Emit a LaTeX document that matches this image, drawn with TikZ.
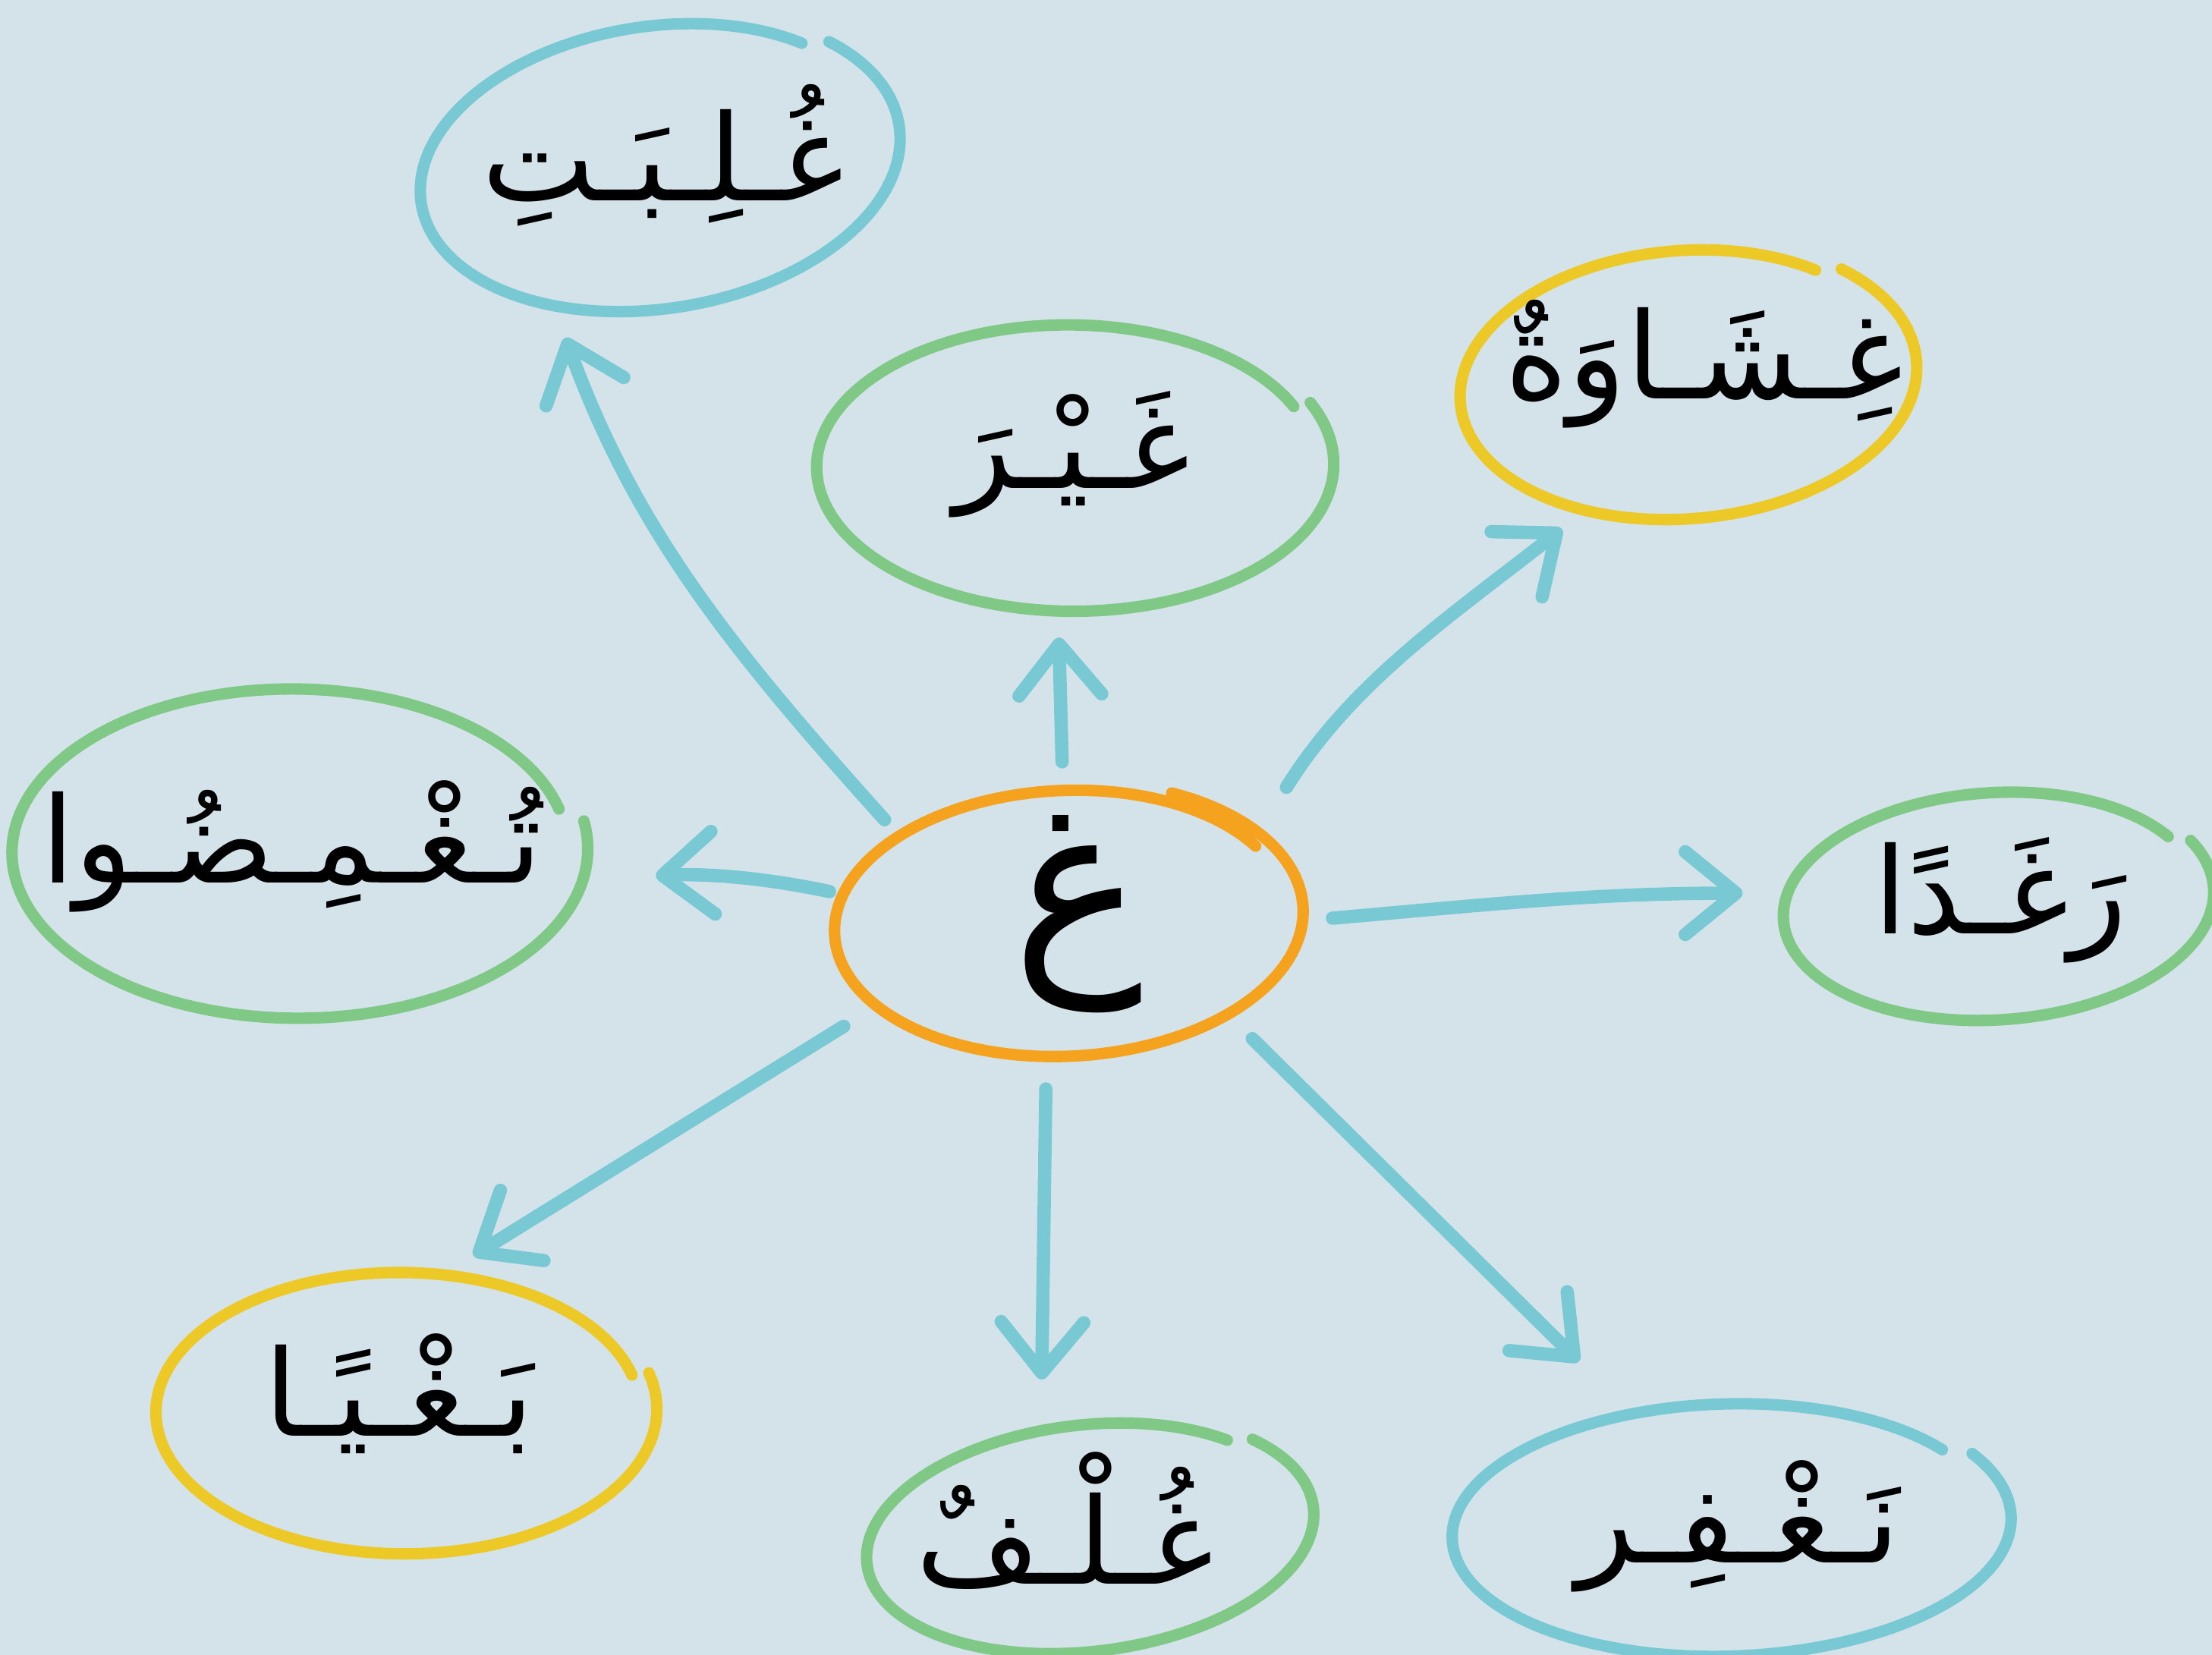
\documentclass[tikz,border=0pt]{standalone}
\usepackage{fontspec}
\usetikzlibrary{shapes.geometric,arrows.meta}
\newfontfamily\arabicfont[Script=Arabic]{DejaVu Sans}
\TeXXeTstate=1
\definecolor{bg}{HTML}{D4E3EA}
\definecolor{cblue}{HTML}{78C9D4}
\definecolor{cgreen}{HTML}{80C886}
\definecolor{cyellow}{HTML}{EDC927}
\definecolor{corange}{HTML}{F5A31F}
\tikzset{
  spot/.style={ellipse, inner sep=0pt, outer sep=0pt},
  word/.style={inner sep=0pt, font=\arabicfont\fontsize{45}{54}\selectfont},
  centerword/.style={inner sep=0pt, font=\arabicfont\fontsize{82}{90}\selectfont},
  ringline/.style={line width=4.3pt, line cap=round, line join=round},
  arr/.style={draw=cblue, line width=5pt, line cap=round,
    -{Straight Barb[length=19pt,width=31pt,round]}},
}
% cx cy rx ry rot gap sweep colour
\newcommand{\sketchring}[8]{%
  \draw[ringline,#8,rotate around={#5:(#1,#2)}]
    plot[domain=0:1,samples=160,smooth]
    ({#1+#3*(1.035-0.07*\x)*cos(#6-#7*\x)},{#2-#4*(1.035-0.07*\x)*sin(#6-#7*\x)});
}
\begin{document}
\begin{tikzpicture}[x=0.01859cm,y=-0.01859cm]
\useasboundingbox (0,0) rectangle (1568,1173);
\fill[bg] (0,0) rectangle (1568,1173);

% anchor nodes (ellipses)
\node[spot, minimum width=174.6pt, minimum height=100.5pt] (c)  at (755,653) {};
\node[spot, minimum width=179.9pt, minimum height=106.9pt] (n1) at (465,117) {};
\node[spot, minimum width=191.5pt, minimum height=107.9pt] (n2) at (759,330) {};
\node[spot, minimum width=170.3pt, minimum height=101.6pt] (n3) at (1194,271) {};
\node[spot, minimum width=212.7pt, minimum height=123.8pt] (n4) at (209,603) {};
\node[spot, minimum width=159.8pt, minimum height=85.7pt]  (n5) at (1414,641) {};
\node[spot, minimum width=185.2pt, minimum height=105.8pt] (n6) at (285,1000) {};
\node[spot, minimum width=167.2pt, minimum height=85.7pt]  (n7) at (770,1089) {};
\node[spot, minimum width=207.4pt, minimum height=95.2pt]  (n8) at (1224,1083) {};

% hand-drawn rings
\sketchring{755}{653}{165}{95}{3}{62}{392}{corange}
\sketchring{465}{117}{170}{101}{9}{40}{355}{cblue}
\sketchring{759}{330}{181}{102}{0}{25}{360}{cgreen}
\sketchring{1194}{271}{161}{96}{5}{45}{355}{cyellow}
\sketchring{209}{603}{201}{117}{0}{10}{355}{cgreen}
\sketchring{1414}{641}{151}{81}{4}{25}{355}{cgreen}
\sketchring{285}{1000}{175}{100}{0}{15}{360}{cyellow}
\sketchring{770}{1089}{158}{81}{7}{40}{355}{cgreen}
\sketchring{1224}{1083}{196}{90}{2}{30}{355}{cblue}

% connectors
\draw[arr, shorten <=5.3pt, shorten >=18pt] (c.152) to[out=132,in=290] (n1.230);
\draw[arr, shorten <=9.5pt, shorten >=10.6pt] (c.91) -- (n2.265);
\draw[arr, shorten <=24pt, shorten >=14pt] (c.23) to[out=58,in=218] (n3.233);
\draw[arr, shorten <=3pt, shorten >=30.7pt] (c.173) to[out=168,in=3] (n4.354);
\draw[arr, shorten <=13pt, shorten >=15pt] (c.0) to[out=5,in=180] (n5.177);
\draw[arr, shorten <=16.4pt, shorten >=11.6pt] (c.204) -- (n6.72);
\draw[arr, shorten <=12.8pt, shorten >=16.8pt] (c.262) -- (n7.112);
\draw[arr, shorten <=12pt, shorten >=25.5pt] (c.330) -- (n8.130);

% texts
\node[centerword] (w0) at (764,648) {\beginR غ\endR};
\node[word] (w1) at (470,110) {\beginR غُـلِـبَـتِ\endR};
\node[word] (w2) at (760,322) {\beginR غَـيْـرَ\endR};
\node[word] (w3) at (1208,258) {\beginR غِـشَـاوَةٌ\endR};
\node[word] (w4) at (207,600) {\beginR تُـغْـمِـضُـوا\endR};
\node[word] (w5) at (1418,638) {\beginR رَغَـدًا\endR};
\node[word] (w6) at (283,988) {\beginR بَـغْـيًـا\endR};
\node[word] (w7) at (755,1078) {\beginR غُـلْـفٌ\endR};
\node[word] (w8) at (1232,1082) {\beginR نَـغْـفِـر\endR};
\end{tikzpicture}
\end{document}
